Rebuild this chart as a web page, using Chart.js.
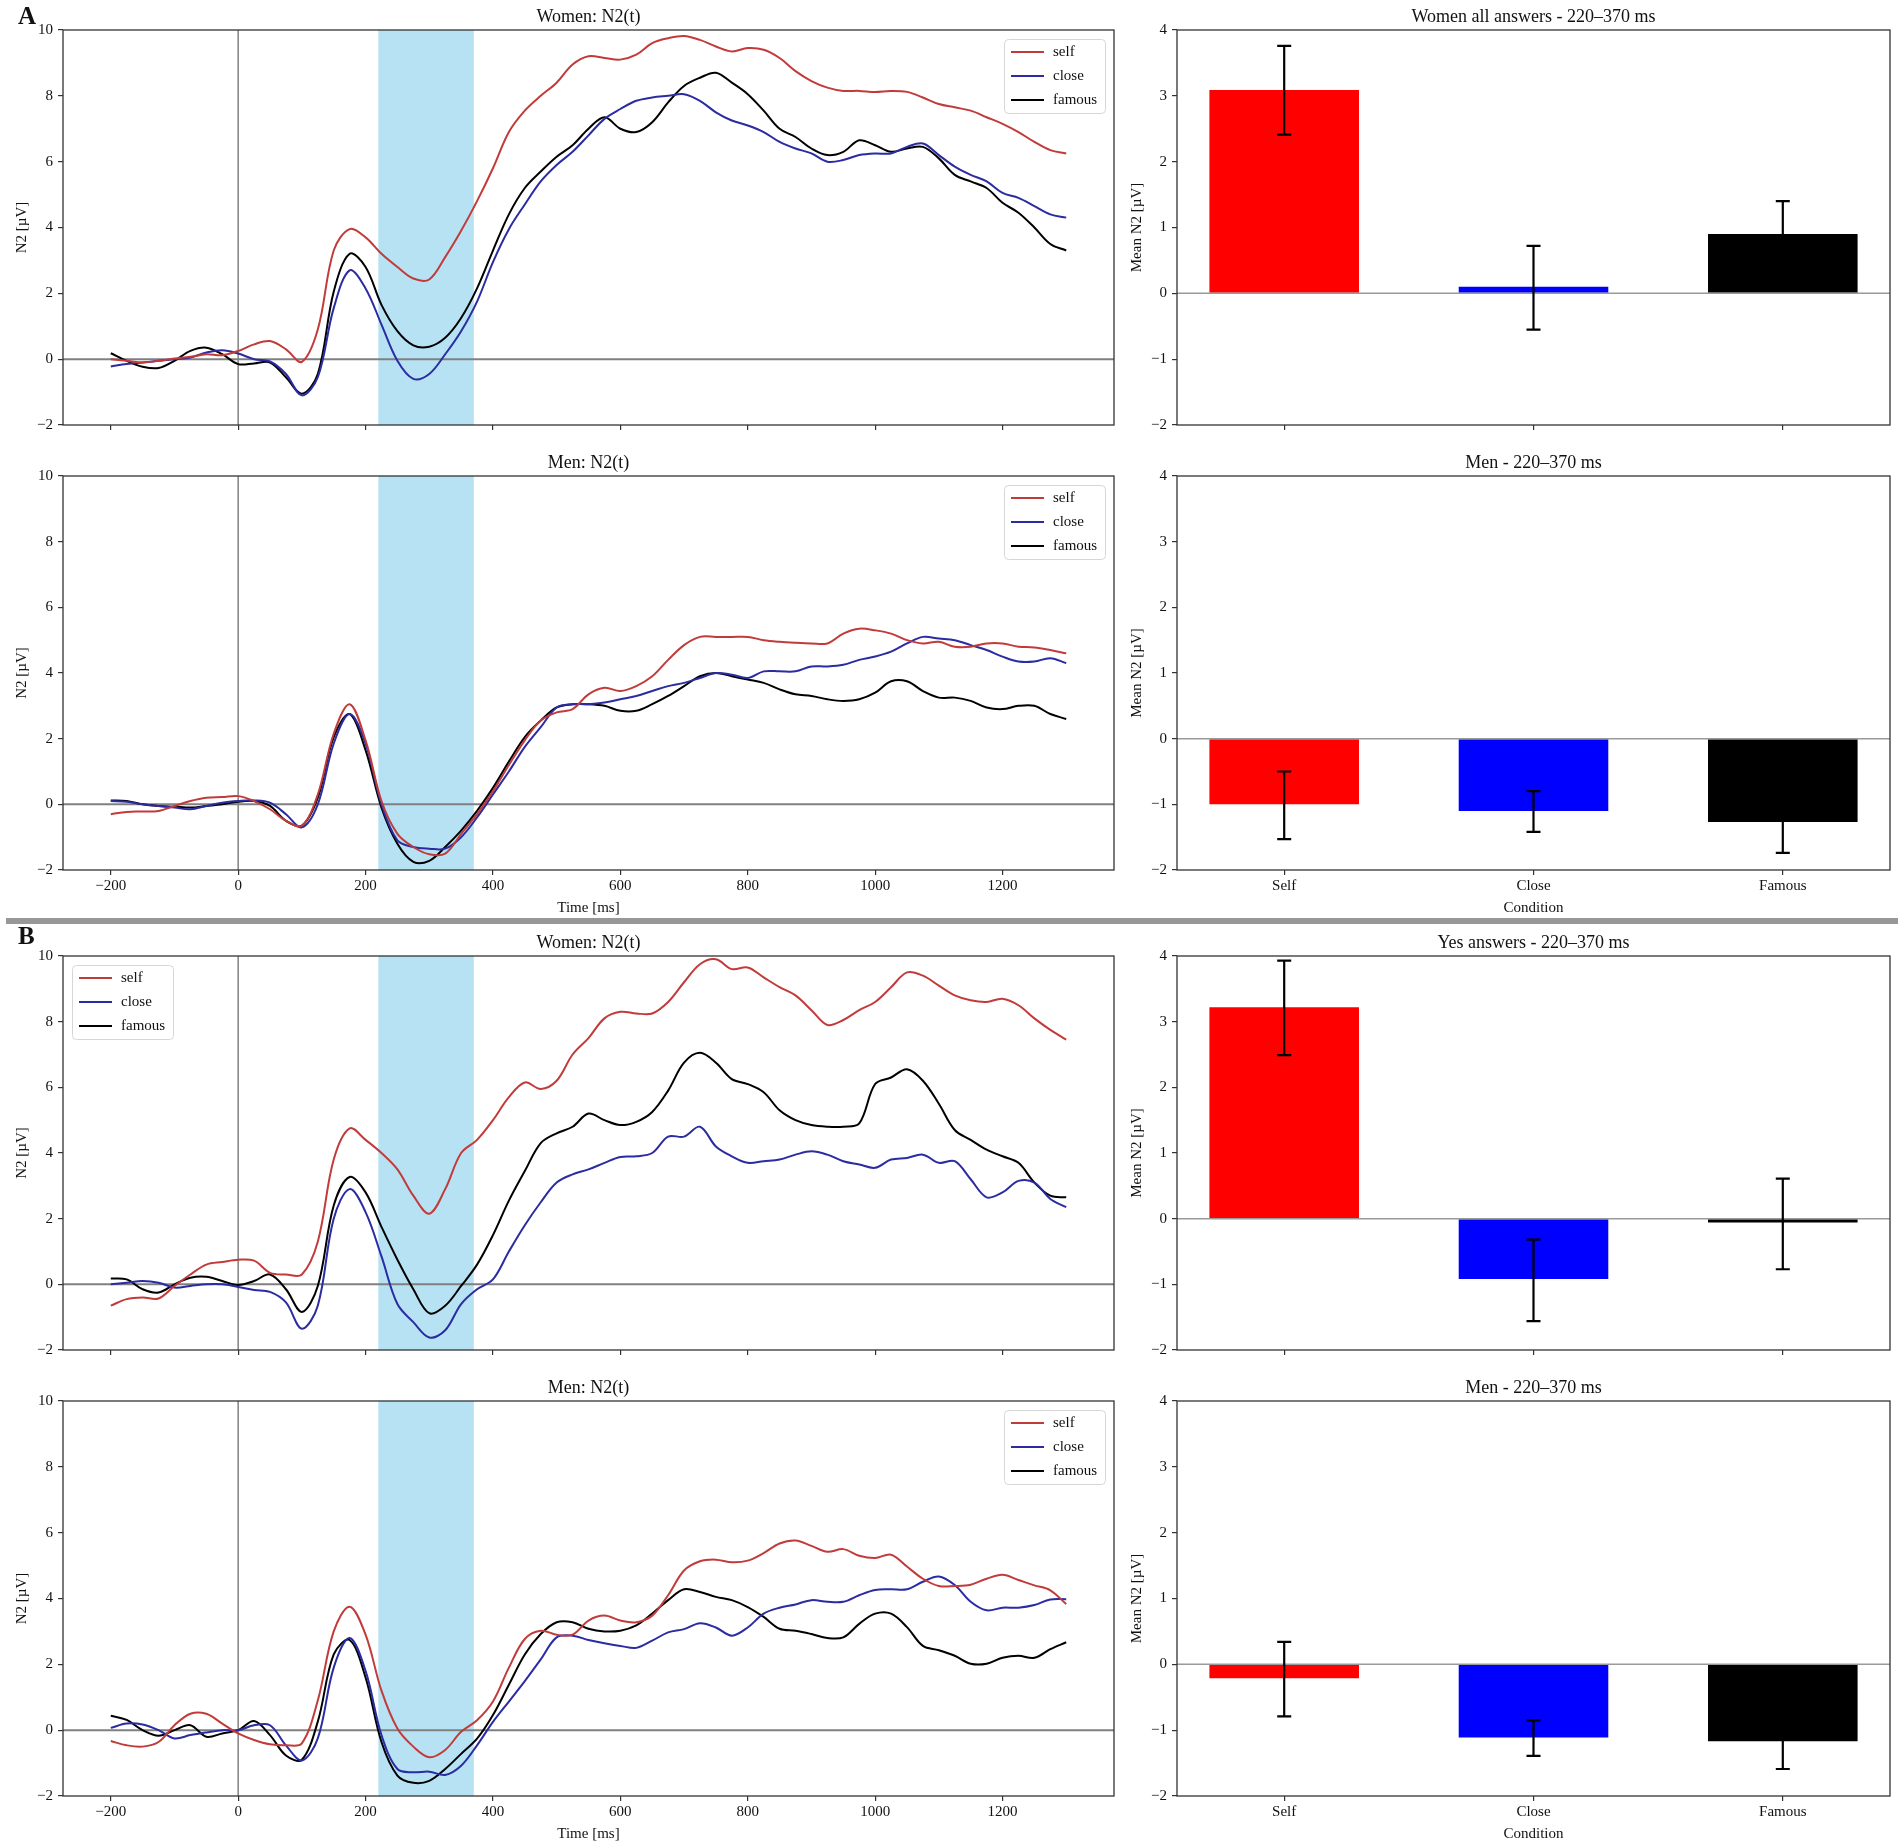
<!DOCTYPE html>
<html>
<head>
<meta charset="utf-8">
<script src="https://cdn.jsdelivr.net/npm/chart.js@4.4.0/dist/chart.umd.min.js"></script>
<style>
  html, body { margin: 0; padding: 0; background: #ffffff; }
  body { position: relative; width: 1902px; height: 1841px; overflow: hidden; }
  .panel { position: absolute; font: bold 25px "Liberation Serif", "Times New Roman", serif; line-height: 25px; color: #111; }
  .sep { position: absolute; left: 6px; width: 1892px; top: 918px; height: 6px; background: #979797; }
</style>
</head>
<body>
<script>
// ---------------- DATA ----------------
const times = [
  -200, -175, -150, -125, -100, -75, -50, -25,
  0, 25, 50, 75, 100, 125, 150, 175,
  200, 225, 250, 275, 300, 325, 350, 375,
  400, 425, 450, 475, 500, 525, 550, 575,
  600, 625, 650, 675, 700, 725, 750, 775,
  800, 825, 850, 875, 900, 925, 950, 975,
  1000, 1025, 1050, 1075, 1100, 1125, 1150, 1175,
  1200, 1225, 1250, 1275, 1300
];
const timeTicks = [-200, 0, 200, 400, 600, 800, 1000, 1200];
const lineYTicks = [-2, 0, 2, 4, 6, 8, 10];
const barYTicks = [-2, -1, 0, 1, 2, 3, 4];
const windowStart = 220;
const windowEnd = 370;
const seriesNames = ['self', 'close', 'famous'];
const categories = ['Self', 'Close', 'Famous'];

// Panel A, women (all answers)
const aWomenSelf = [
  0, -0.05, -0.1, -0.05, 0.02, 0.07, 0.15, 0.12,
  0.25, 0.45, 0.55, 0.3, -0.08, 0.9, 3.3, 3.95,
  3.7, 3.2, 2.8, 2.45, 2.42, 3.1, 3.9, 4.8,
  5.8, 6.9, 7.55, 8.0, 8.4, 8.95, 9.2, 9.15,
  9.1, 9.25, 9.6, 9.75, 9.82, 9.7, 9.5, 9.35,
  9.45, 9.4, 9.15, 8.75, 8.45, 8.25, 8.15, 8.15,
  8.12, 8.15, 8.12, 7.95, 7.75, 7.65, 7.55, 7.35,
  7.15, 6.9, 6.6, 6.35, 6.25
];
const aWomenClose = [
  -0.22, -0.15, -0.1, -0.05, 0, 0.05, 0.2, 0.27,
  0.17, 0, -0.07, -0.45, -1.1, -0.55, 1.55, 2.7,
  2.15, 1.05, -0.05, -0.6, -0.45, 0.15, 0.85, 1.75,
  2.95, 3.95, 4.7, 5.4, 5.9, 6.3, 6.8, 7.3,
  7.6, 7.85, 7.95, 8.0, 8.05, 7.85, 7.5, 7.25,
  7.1, 6.9, 6.6, 6.4, 6.25, 6.0, 6.05, 6.2,
  6.25, 6.25, 6.45, 6.55, 6.2, 5.85, 5.6, 5.4,
  5.05, 4.9, 4.65, 4.4, 4.3
];
const aWomenFamous = [
  0.18, -0.05, -0.23, -0.27, -0.05, 0.25, 0.35, 0.15,
  -0.15, -0.13, -0.1, -0.55, -1.05, -0.45, 2.05, 3.2,
  2.8, 1.65, 0.85, 0.42, 0.38, 0.65, 1.25, 2.15,
  3.3, 4.4, 5.2, 5.7, 6.15, 6.5, 7.0, 7.35,
  7.0, 6.9, 7.2, 7.8, 8.3, 8.55, 8.7, 8.4,
  8.05, 7.55, 7.0, 6.75, 6.4, 6.2, 6.3, 6.65,
  6.5, 6.3, 6.4, 6.45, 6.1, 5.6, 5.4, 5.2,
  4.75, 4.45, 4.0, 3.5, 3.3
];
// Panel A, men
const aMenSelf = [
  -0.3, -0.23, -0.22, -0.2, -0.05, 0.1, 0.2, 0.22,
  0.25, 0.1, -0.15, -0.5, -0.65, 0.3, 2.15, 3.05,
  1.95, 0.1, -0.9, -1.3, -1.52, -1.5, -0.9, -0.3,
  0.4, 1.2, 1.95, 2.55, 2.8, 2.9, 3.35, 3.55,
  3.45, 3.6, 3.9, 4.4, 4.85, 5.1, 5.1, 5.1,
  5.1, 5.0, 4.95, 4.92, 4.9, 4.9, 5.2, 5.35,
  5.3, 5.2, 5.0, 4.9, 4.95, 4.8, 4.8, 4.9,
  4.9, 4.8, 4.78, 4.7, 4.6
];
const aMenClose = [
  0.1, 0.08, 0, -0.05, -0.1, -0.15, -0.05, 0.05,
  0.1, 0.12, 0.05, -0.3, -0.7, 0, 1.85, 2.75,
  1.85, 0, -1.1, -1.3, -1.35, -1.35, -1.0, -0.4,
  0.3, 1.0, 1.75, 2.35, 2.95, 3.05, 3.05, 3.1,
  3.2, 3.3, 3.45, 3.6, 3.7, 3.85, 4.0, 3.95,
  3.85, 4.05, 4.05, 4.05, 4.2, 4.2, 4.25, 4.4,
  4.5, 4.65, 4.9, 5.1, 5.05, 5.0, 4.85, 4.7,
  4.5, 4.35, 4.35, 4.45, 4.3
];
const aMenFamous = [
  0.12, 0.1, 0, -0.05, -0.07, -0.1, -0.05, 0,
  0.08, 0.1, -0.05, -0.5, -0.65, 0.2, 2.05, 2.75,
  1.65, -0.1, -1.2, -1.75, -1.72, -1.3, -0.8, -0.2,
  0.5, 1.3, 2.05, 2.55, 2.95, 3.05, 3.05, 3.0,
  2.85, 2.85, 3.05, 3.3, 3.6, 3.9, 4.0, 3.9,
  3.8, 3.7, 3.5, 3.35, 3.3, 3.2, 3.15, 3.2,
  3.4, 3.75, 3.75, 3.45, 3.25, 3.25, 3.15, 2.95,
  2.9, 3.0, 3.0, 2.75, 2.6
];
// Panel B, women (yes answers)
const bWomenSelf = [
  -0.65, -0.45, -0.4, -0.43, -0.05, 0.3, 0.6, 0.68,
  0.75, 0.72, 0.35, 0.3, 0.3, 1.3, 3.8, 4.75,
  4.4, 4.0, 3.5, 2.7, 2.15, 2.9, 4.0, 4.4,
  5.0, 5.7, 6.15, 5.95, 6.2, 7.0, 7.5, 8.1,
  8.3, 8.25, 8.25, 8.6, 9.2, 9.75, 9.9, 9.6,
  9.65, 9.35, 9.05, 8.8, 8.35, 7.9, 8.05, 8.35,
  8.6, 9.05, 9.5, 9.4, 9.1, 8.8, 8.65, 8.6,
  8.7, 8.5, 8.1, 7.75, 7.45
];
const bWomenClose = [
  0, 0.05, 0.1, 0.05, -0.1, -0.05, 0, 0,
  -0.08, -0.17, -0.23, -0.55, -1.35, -0.65, 2.0, 2.9,
  2.2, 0.85, -0.6, -1.15, -1.62, -1.4, -0.6, -0.15,
  0.15, 1.0, 1.8, 2.5, 3.1, 3.35, 3.5, 3.7,
  3.88, 3.9, 4.0, 4.5, 4.5, 4.8, 4.2, 3.9,
  3.7, 3.75, 3.8, 3.95, 4.05, 3.95, 3.75, 3.65,
  3.55, 3.8, 3.85, 3.95, 3.7, 3.75, 3.2, 2.65,
  2.8, 3.15, 3.1, 2.6, 2.35
];
const bWomenFamous = [
  0.18, 0.15, -0.15, -0.25, 0, 0.2, 0.23, 0.1,
  -0.02, 0.1, 0.3, -0.15, -0.84, -0.05, 2.4, 3.27,
  2.8, 1.75, 0.75, -0.15, -0.88, -0.65, -0.05, 0.6,
  1.5, 2.55, 3.45, 4.3, 4.6, 4.8, 5.2, 5.0,
  4.85, 4.95, 5.25, 5.9, 6.75, 7.05, 6.75, 6.25,
  6.1, 5.85, 5.3, 5.0, 4.85, 4.8, 4.8, 4.9,
  6.1, 6.3, 6.55, 6.2, 5.5, 4.7, 4.4, 4.1,
  3.9, 3.7, 3.1, 2.7, 2.65
];
// Panel B, men
const bMenSelf = [
  -0.33, -0.46, -0.5, -0.36, 0.15, 0.5, 0.5, 0.2,
  -0.1, -0.3, -0.43, -0.46, -0.4, 0.9, 3.0, 3.75,
  2.9, 1.2, 0.05, -0.5, -0.82, -0.6, -0.05, 0.3,
  0.87, 1.9, 2.77, 3.02, 2.9, 2.9, 3.33, 3.48,
  3.33, 3.28, 3.48, 4.1, 4.85, 5.13, 5.18, 5.1,
  5.15, 5.38, 5.67, 5.76, 5.6, 5.42, 5.5, 5.3,
  5.23, 5.33, 4.97, 4.6, 4.38, 4.38, 4.42, 4.6,
  4.72, 4.56, 4.4, 4.25, 3.83
];
const bMenClose = [
  0.07, 0.2, 0.17, 0, -0.25, -0.15, -0.07, 0,
  0, 0.15, 0.15, -0.46, -0.92, -0.25, 1.9, 2.8,
  1.8, -0.15, -1.18, -1.28, -1.26, -1.36, -1.08, -0.46,
  0.25, 0.87, 1.49, 2.15, 2.82, 2.87, 2.74, 2.64,
  2.56, 2.5, 2.72, 2.97, 3.07, 3.25, 3.12, 2.87,
  3.12, 3.54, 3.72, 3.82, 3.95, 3.9, 3.9, 4.1,
  4.26, 4.28, 4.28, 4.51, 4.67, 4.41, 3.9, 3.64,
  3.72, 3.72, 3.8, 3.97, 3.98
];
const bMenFamous = [
  0.44, 0.31, 0, -0.17, 0, 0.15, -0.2, -0.1,
  0, 0.28, -0.15, -0.77, -0.9, 0.26, 2.3, 2.74,
  1.6, -0.36, -1.38, -1.6, -1.54, -1.18, -0.72, -0.26,
  0.46, 1.38, 2.3, 2.92, 3.28, 3.28, 3.08, 3.0,
  3.02, 3.18, 3.54, 3.95, 4.28, 4.2, 4.05, 3.95,
  3.74, 3.44, 3.08, 3.02, 2.92, 2.8, 2.82, 3.23,
  3.54, 3.54, 3.13, 2.56, 2.43, 2.26, 2.02, 2.02,
  2.2, 2.26, 2.2, 2.46, 2.67
];

// Bar means (220–370 ms) and error-bar limits
const aWomenMeans = [3.09, 0.1, 0.9];
const aWomenErrLow = [2.41, -0.55, 0.4];
const aWomenErrHigh = [3.76, 0.72, 1.4];
const aMenMeans = [-1.0, -1.1, -1.27];
const aMenErrLow = [-1.53, -1.42, -1.74];
const aMenErrHigh = [-0.5, -0.8, -0.8];
const bYesMeans = [3.22, -0.92, -0.06];
const bYesErrLow = [2.49, -1.56, -0.77];
const bYesErrHigh = [3.93, -0.32, 0.61];
const bMenMeans = [-0.21, -1.11, -1.17];
const bMenErrLow = [-0.79, -1.39, -1.59];
const bMenErrHigh = [0.34, -0.85, -0.75];

// ---------------- STYLE / LAYOUT ----------------
const FONT = '"Liberation Serif", "Times New Roman", serif';
const lineColors = ['#c23b3b', '#2b2ba2', '#000000'];
const barColors = ['#ff0000', '#0000ff', '#000000'];
const timeMin = -275, timeMax = 1375;
const barMin = -0.43, barMax = 2.43;
const LINE_LEFT = 63, LINE_RIGHT = 1114, BAR_CANVAS_LEFT = 1100, BAR_LEFT = 1177, BAR_RIGHT = 1890;
const ROWS = [[30, 427], [476, 870], [956, 1352], [1401, 1796]];
const TITLE_H = 26, PAD_R = 10;

Chart.defaults.font.family = FONT;
Chart.defaults.font.size = 15;
Chart.defaults.color = '#111';

const fmt = v => (v < 0 ? '\u2212' + Math.abs(v) : String(v));

function makeCanvas(left, top, width, height) {
  const c = document.createElement('canvas');
  c.width = width; c.height = height;
  c.style.cssText = 'position:absolute;left:' + left + 'px;top:' + top + 'px;width:' + width + 'px;height:' + height + 'px';
  document.body.appendChild(c);
  return c;
}

// ---------------- PLUGINS ----------------
const spanPlugin = {
  id: 'span',
  beforeDatasetsDraw(chart, args, o) {
    if (o.from === undefined) return;
    const { ctx, chartArea: a, scales: { x } } = chart;
    const x1 = x.getPixelForValue(o.from), x2 = x.getPixelForValue(o.to);
    ctx.save();
    ctx.fillStyle = 'rgba(135,206,235,0.6)';
    ctx.fillRect(x1, a.top, x2 - x1, a.height);
    ctx.restore();
  }
};
function drawRef(chart, o) {
  const { ctx, chartArea: a, scales: { x, y } } = chart;
  ctx.save();
  ctx.strokeStyle = o.color;
  if (o.vertical) {
    const px = x.getPixelForValue(0);
    ctx.lineWidth = o.vw;
    ctx.beginPath(); ctx.moveTo(px, a.top); ctx.lineTo(px, a.bottom); ctx.stroke();
  }
  const py = y.getPixelForValue(0);
  ctx.lineWidth = o.hw;
  ctx.beginPath(); ctx.moveTo(a.left, py); ctx.lineTo(a.right, py); ctx.stroke();
  ctx.restore();
}
const refPlugin = {
  id: 'refLines',
  beforeDatasetsDraw(chart, args, o) { if (!o.after) drawRef(chart, o); },
  afterDatasetsDraw(chart, args, o) { if (o.after) drawRef(chart, o); }
};
const errPlugin = {
  id: 'errorBars',
  afterDatasetsDraw(chart, args, o) {
    if (!o.lo) return;
    const { ctx, scales: { y } } = chart;
    const meta = chart.getDatasetMeta(0);
    ctx.save();
    ctx.strokeStyle = '#000'; ctx.lineWidth = 2.2;
    meta.data.forEach((bar, i) => {
      const px = bar.x, y1 = y.getPixelForValue(o.lo[i]), y2 = y.getPixelForValue(o.hi[i]);
      ctx.beginPath();
      ctx.moveTo(px, y1); ctx.lineTo(px, y2);
      ctx.moveTo(px - 7, y1); ctx.lineTo(px + 7, y1);
      ctx.moveTo(px - 7, y2); ctx.lineTo(px + 7, y2);
      ctx.stroke();
    });
    ctx.restore();
  }
};
const legendPlugin = {
  id: 'boxLegend',
  afterDatasetsDraw(chart, args, o) {
    if (!o.corner) return;
    const { ctx, chartArea: a } = chart;
    const w = 101, h = 74, m = 9;
    const left = o.corner === 'ne' ? a.right - m - w : a.left + m;
    const top = a.top + m;
    ctx.save();
    ctx.fillStyle = 'rgba(255,255,255,0.85)';
    ctx.strokeStyle = '#d6d6d6'; ctx.lineWidth = 1;
    ctx.beginPath();
    ctx.roundRect(Math.round(left) + 0.5, Math.round(top) + 0.5, w, h, 4);
    ctx.fill(); ctx.stroke();
    ctx.font = '15px ' + FONT; ctx.textBaseline = 'middle'; ctx.textAlign = 'left';
    chart.data.datasets.forEach((ds, i) => {
      const yy = top + 13 + i * 24;
      ctx.strokeStyle = ds.borderColor; ctx.lineWidth = 2;
      ctx.beginPath(); ctx.moveTo(left + 7, yy); ctx.lineTo(left + 40, yy); ctx.stroke();
      ctx.fillStyle = '#111';
      ctx.fillText(ds.label, left + 49, yy);
    });
    ctx.restore();
  }
};
const framePlugin = {
  id: 'frame',
  afterDraw(chart) {
    const { ctx, chartArea: a } = chart;
    ctx.save();
    ctx.strokeStyle = '#333'; ctx.lineWidth = 1.3;
    ctx.strokeRect(a.left, a.top, a.width, a.height);
    ctx.restore();
  }
};

function gridOpts() {
  return { display: true, drawOnChartArea: false, drawTicks: true, tickLength: 5, color: '#333', lineWidth: 1.2, offset: false };
}
function titleOpts(text) {
  return { display: true, text: text, fullSize: false, font: { size: 18, weight: 'normal', lineHeight: 1.2 }, padding: { top: 2, bottom: 2.4 }, color: '#111' };
}

// ---------------- CHART BUILDERS ----------------
function lineChart(row, title, series, corner, showX) {
  const [pt, pb] = ROWS[row];
  const xH = showX ? 50 : 12;
  const top = pt - TITLE_H;
  const canvas = makeCanvas(0, top, LINE_RIGHT + PAD_R, pb + xH - top);
  new Chart(canvas, {
    type: 'line',
    data: {
      datasets: series.map((s, i) => ({
        label: seriesNames[i],
        data: times.map((t, k) => ({ x: t, y: s[k] })),
        borderColor: lineColors[i], backgroundColor: lineColors[i],
        borderWidth: 2, pointRadius: 0, pointHoverRadius: 0,
        tension: 0.35, fill: false
      }))
    },
    options: {
      responsive: false, animation: false, events: [],
      layout: { padding: { left: 0, right: PAD_R, top: 0, bottom: 0 } },
      scales: {
        x: {
          type: 'linear', min: timeMin, max: timeMax, offset: false,
          afterBuildTicks: s => { s.ticks = timeTicks.map(v => ({ value: v })); },
          ticks: { callback: v => (showX ? fmt(v) : ''), padding: 2, maxRotation: 0, autoSkip: false, color: '#111', font: { size: 15 } },
          grid: gridOpts(), border: { display: false },
          title: { display: showX, text: 'Time [ms]', font: { size: 15 }, padding: { top: 0, bottom: 3 }, color: '#111' },
          afterFit: s => { s.height = xH; }
        },
        y: {
          type: 'linear', min: -2, max: 10,
          afterBuildTicks: s => { s.ticks = lineYTicks.map(v => ({ value: v })); },
          ticks: { callback: v => fmt(v), padding: 5, autoSkip: false, color: '#111', font: { size: 15 } },
          grid: gridOpts(), border: { display: false },
          title: { display: true, text: 'N2 [\u00B5V]', font: { size: 15 }, padding: { top: 13, bottom: 0 }, color: '#111' },
          afterFit: s => { s.width = LINE_LEFT; }
        }
      },
      plugins: {
        legend: { display: false }, tooltip: { enabled: false },
        title: titleOpts(title),
        span: { from: windowStart, to: windowEnd },
        refLines: { vertical: true, vw: 1.5, hw: 2, color: '#808080', after: false },
        boxLegend: { corner: corner }
      }
    },
    plugins: [spanPlugin, refPlugin, legendPlugin, framePlugin]
  });
}

function barChart(row, title, means, lo, hi, showX) {
  const [pt, pb] = ROWS[row];
  const xH = showX ? 50 : 12;
  const top = pt - TITLE_H;
  const canvas = makeCanvas(BAR_CANVAS_LEFT, top, BAR_RIGHT + PAD_R - BAR_CANVAS_LEFT, pb + xH - top);
  new Chart(canvas, {
    type: 'bar',
    data: {
      datasets: [{
        label: 'Mean N2',
        data: means.map((m, i) => ({ x: i, y: m })),
        backgroundColor: barColors, borderWidth: 0,
        barPercentage: 0.6, categoryPercentage: 1
      }]
    },
    options: {
      responsive: false, animation: false, events: [],
      layout: { padding: { left: 0, right: PAD_R, top: 0, bottom: 0 } },
      scales: {
        x: {
          type: 'linear', min: barMin, max: barMax, offset: false,
          afterBuildTicks: s => { s.ticks = categories.map((c, i) => ({ value: i })); },
          ticks: { callback: v => (showX ? categories[v] : ''), padding: 2, maxRotation: 0, autoSkip: false, color: '#111', font: { size: 15 } },
          grid: gridOpts(), border: { display: false },
          title: { display: showX, text: 'Condition', font: { size: 15 }, padding: { top: 0, bottom: 3 }, color: '#111' },
          afterFit: s => { s.height = xH; }
        },
        y: {
          type: 'linear', min: -2, max: 4,
          afterBuildTicks: s => { s.ticks = barYTicks.map(v => ({ value: v })); },
          ticks: { callback: v => fmt(v), padding: 5, autoSkip: false, color: '#111', font: { size: 15 } },
          grid: gridOpts(), border: { display: false },
          title: { display: true, text: 'Mean N2 [\u00B5V]', font: { size: 15 }, padding: { top: 28, bottom: 0 }, color: '#111' },
          afterFit: s => { s.width = BAR_LEFT - BAR_CANVAS_LEFT; }
        }
      },
      plugins: {
        legend: { display: false }, tooltip: { enabled: false },
        title: titleOpts(title),
        refLines: { vertical: false, hw: 1.5, color: '#9a9a9a', after: true },
        errorBars: { lo: lo, hi: hi }
      }
    },
    plugins: [refPlugin, errPlugin, framePlugin]
  });
}

lineChart(0, 'Women: N2(t)', [aWomenSelf, aWomenClose, aWomenFamous], 'ne', false);
lineChart(1, 'Men: N2(t)', [aMenSelf, aMenClose, aMenFamous], 'ne', true);
lineChart(2, 'Women: N2(t)', [bWomenSelf, bWomenClose, bWomenFamous], 'nw', false);
lineChart(3, 'Men: N2(t)', [bMenSelf, bMenClose, bMenFamous], 'ne', true);

barChart(0, 'Women all answers - 220\u2013370 ms', aWomenMeans, aWomenErrLow, aWomenErrHigh, false);
barChart(1, 'Men - 220\u2013370 ms', aMenMeans, aMenErrLow, aMenErrHigh, true);
barChart(2, 'Yes answers - 220\u2013370 ms', bYesMeans, bYesErrLow, bYesErrHigh, false);
barChart(3, 'Men - 220\u2013370 ms', bMenMeans, bMenErrLow, bMenErrHigh, true);

// decorations: separator and panel letters
const sep = document.createElement('div'); sep.className = 'sep'; document.body.appendChild(sep);
[['A', 18, 3], ['B', 18, 923]].forEach(([t, l, tp]) => {
  const d = document.createElement('div');
  d.className = 'panel'; d.textContent = t;
  d.style.left = l + 'px'; d.style.top = tp + 'px';
  document.body.appendChild(d);
});
</script>
</body>
</html>
